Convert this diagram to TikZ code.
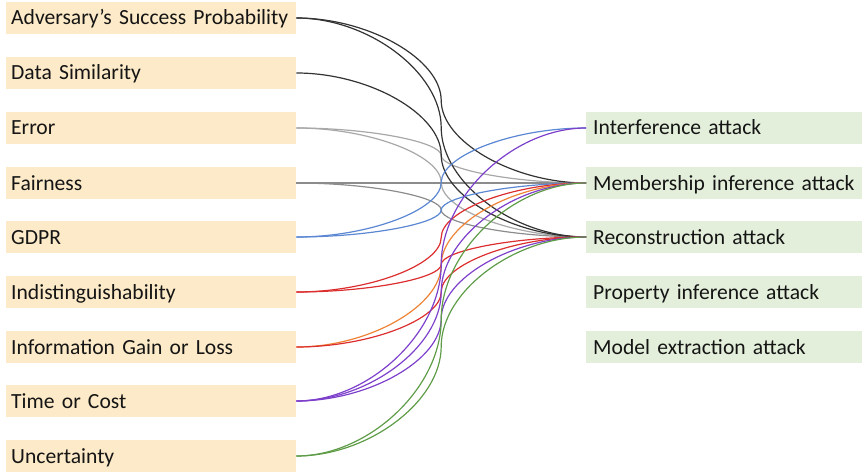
\documentclass[tikz,border=0pt]{standalone}
\usepackage{fontspec}
\setmainfont{Carlito}
\usetikzlibrary{calc}
\definecolor{lboxfill}{HTML}{FCEAC8}
\definecolor{rboxfill}{HTML}{E3EFDA}
\definecolor{txt}{HTML}{151515}
\definecolor{cblack}{HTML}{333333}
\definecolor{cgrey}{HTML}{A8A8A8}
\definecolor{cgreyb}{HTML}{8C8C8C}
\definecolor{cblue}{HTML}{5B87D3}
\definecolor{cred}{HTML}{DC2E2E}
\definecolor{corange}{HTML}{EE8336}
\definecolor{cpurple}{HTML}{7D40CB}
\definecolor{cgreen}{HTML}{5F9C48}
\begin{document}
\begin{tikzpicture}[x=1pt,y=-1pt,
  boxbase/.style={draw=none, minimum height=32pt, inner ysep=0pt,
    align=left, text height=15pt, text depth=1pt, text=txt,
    font=\fontsize{21.6}{26}\selectfont, anchor=west},
  lbox/.style={boxbase, fill=lboxfill, inner xsep=5pt, text width=280pt},
  rbox/.style={boxbase, fill=rboxfill, inner xsep=7pt, text width=262pt},
  conn/.style={line width=1.2pt,
    to path={let \p1=(\tikztostart), \p2=(\tikztotarget) in
      .. controls ({0.75*\x1+0.25*\x2},\y1) and ({0.5*\x1+0.5*\x2},{0.75*\y1+0.25*\y2})
      .. ({0.5*\x1+0.5*\x2},{0.5*\y1+0.5*\y2})
      .. controls ({0.5*\x1+0.5*\x2},{0.25*\y1+0.75*\y2}) and ({0.25*\x1+0.75*\x2},\y2)
      .. (\tikztotarget)}}
]
\useasboundingbox (0,0) rectangle (864,473);

\node[lbox] (L1) at (6,18)  {Adversary’s Success Probability};
\node[lbox] (L2) at (6,73)  {Data Similarity};
\node[lbox] (L3) at (6,128) {Error};
\node[lbox] (L4) at (6,183) {Fairness};
\node[lbox] (L5) at (6,237) {GDPR};
\node[lbox] (L6) at (6,292) {Indistinguishability};
\node[lbox] (L7) at (6,347) {Information Gain or Loss};
\node[lbox] (L8) at (6,401) {Time or Cost};
\node[lbox] (L9) at (6,456) {Uncertainty};

\node[rbox] (R1) at (586,128) {Interference attack};
\node[rbox] (R2) at (586,183) {Membership inference attack};
\node[rbox] (R3) at (586,237) {Reconstruction attack};
\node[rbox] (R4) at (586,292) {Property inference attack};
\node[rbox] (R5) at (586,347) {Model extraction attack};

\draw[conn, cgrey] (L3.east) to (R2.west);
\draw[conn, cgrey] (L3.east) to (R3.west);
\draw[conn, cgreyb] (L4.east) to (R2.west);
\draw[conn, cgreyb] (L4.east) to (R3.west);
\draw[conn, cblack] (L1.east) to (R2.west);
\draw[conn, cblack] (L1.east) to (R3.west);
\draw[conn, cblack] (L2.east) to (R3.west);
\draw[conn, cblue] (L5.east) to (R1.west);
\draw[conn, cblue] (L5.east) to (R2.west);
\draw[conn, cred] (L6.east) to (R2.west);
\draw[conn, cred] (L6.east) to (R3.west);
\draw[conn, corange] (L7.east) to (R2.west);
\draw[conn, cred] (L7.east) to (R3.west);
\draw[conn, cpurple] (L8.east) to (R1.west);
\draw[conn, cpurple] (L8.east) to (R2.west);
\draw[conn, cpurple] (L8.east) to (R3.west);
\draw[conn, cgreen] (L9.east) to (R2.west);
\draw[conn, cgreen] (L9.east) to (R3.west);
\end{tikzpicture}
\end{document}
